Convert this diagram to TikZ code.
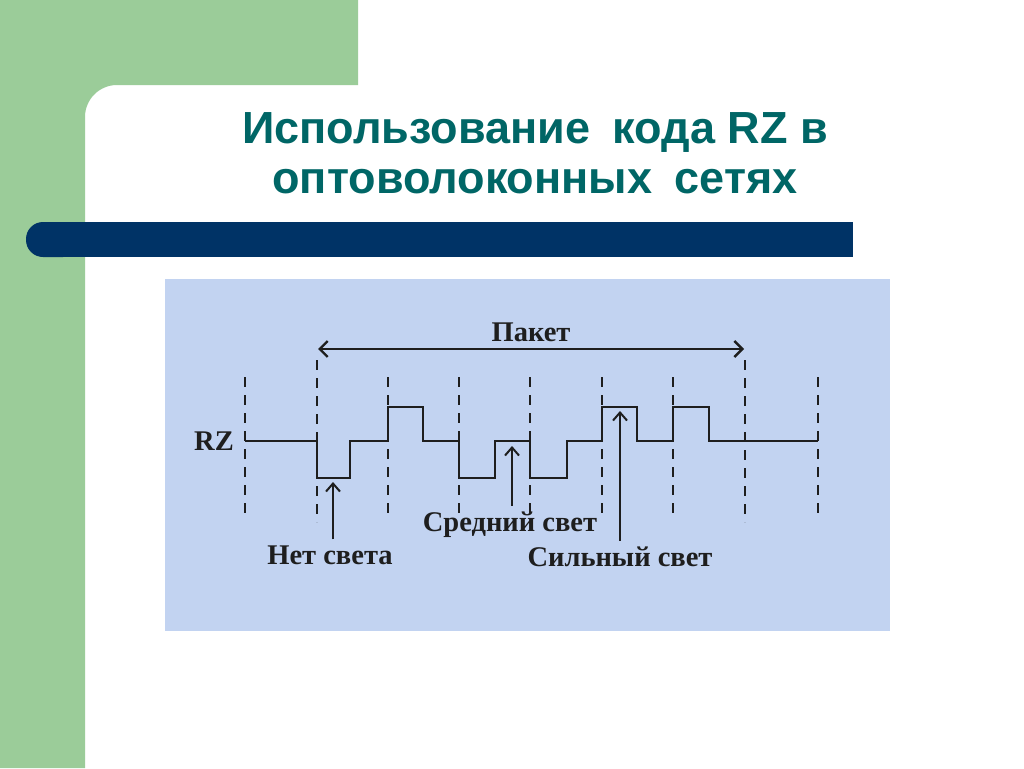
\documentclass[tikz,border=0pt]{standalone}
\usepackage{fontspec}
\setmainfont{Liberation Serif}
\newfontfamily\titlefont{Liberation Sans}
\usetikzlibrary{arrows.meta}
\definecolor{slidegreen}{HTML}{9BCC99}
\definecolor{bardark}{HTML}{003366}
\definecolor{titleteal}{HTML}{006666}
\definecolor{panelblue}{HTML}{C2D3F1}
\definecolor{ink}{HTML}{1E1E1E}
\tikzset{
  wave/.style={draw=ink, line width=2.4pt, line join=miter},
  grid/.style={draw=ink, line width=2.2pt, dash pattern=on 10pt off 8pt},
  lbl/.style={font=\bfseries\fontsize{28.5}{30}\selectfont, text=ink, inner sep=0pt},
  pointer/.style={draw=ink, line width=2pt, -{Straight Barb[length=8pt,width=14pt,line width=2pt]}},
  span/.style={draw=ink, line width=2pt, {Straight Barb[length=8pt,width=16pt,line width=2.4pt]}-{Straight Barb[length=8pt,width=16pt,line width=2.4pt]}}
}
\begin{document}
\begin{tikzpicture}[x=1pt,y=-1pt]
\useasboundingbox (0,0) rectangle (1024,768);
\fill[white] (0,0) rectangle (1024,768);
% green L with rounded inner corner
\fill[slidegreen] (0,0) -- (358,0) -- (358,85) -- (117,85)
  arc[start angle=-90, end angle=-180, radius=32] -- (85,768) -- (0,768) -- cycle;
% dark bar
\fill[bardark, rounded corners=17pt] (26,222) rectangle (80,257);
\fill[bardark] (60,222) rectangle (853,257);
% title
\node[font=\titlefont\bfseries\fontsize{45}{50}\selectfont, text=titleteal, align=center] (title) at (535,153)
  {Использование\hspace{0.5em}кода RZ в\\оптоволоконных\hspace{0.5em}сетях};
% panel
\fill[panelblue] (165,279) rectangle (890,631);
% dashed grid
\foreach \x in {245,388,459,530,602,673,818} {
  \draw[grid] (\x,377) -- (\x,515);
}
\foreach \x in {317,745} {
  \draw[grid] (\x,360) -- (\x,522);
}
% waveform
\draw[wave] (245,441) -- (317,441) -- (317,478) -- (350,478) -- (350,441) -- (388,441)
  -- (388,407) -- (423,407) -- (423,441) -- (459,441) -- (459,478) -- (495,478) -- (495,441)
  -- (530,441) -- (530,478) -- (567,478) -- (567,441) -- (602,441) -- (602,407) -- (637,407)
  -- (637,441) -- (673,441) -- (673,407) -- (709,407) -- (709,441) -- (818,441);
% packet span
\coordinate (pL) at (318,349);
\coordinate (pR) at (744,349);
\draw[span] (pL) -- (pR);
\node[lbl] (paket) at (531,332) {Пакет};
\node[lbl] (rz) at (214,441) {RZ};
% pointers
\node[lbl] (net) at (330,555) {Нет света};
\node[lbl] (sred) at (510,525) {Средний свет};
\node[lbl] (siln) at (620,557) {Сильный свет};
\coordinate (tNet) at (333,482);
\coordinate (tSred) at (512,446);
\coordinate (tSiln) at (620,411);
\draw[pointer] (tNet |- net.north) ++(0,-6) -- (tNet);
\draw[pointer] (tSred |- sred.north) ++(0,-6) -- (tSred);
\draw[pointer] (tSiln |- siln.north) ++(0,-6) -- (tSiln);
\end{tikzpicture}
\end{document}
